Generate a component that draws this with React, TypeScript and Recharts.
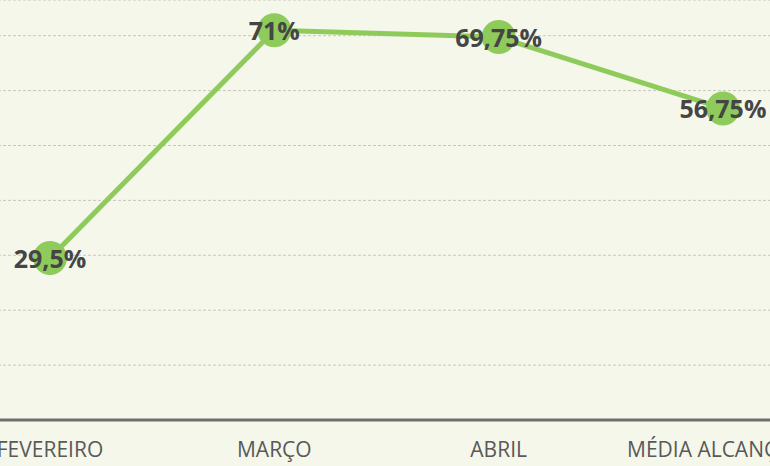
import { LineChart, Line, XAxis, YAxis, CartesianGrid, LabelList } from "recharts";

// values
const categories = ["FEVEREIRO", "MARÇO", "ABRIL", "MÉDIA ALCANÇADA"];
const percentages = [29.5, 71, 69.75, 56.75];
const yTicks = [0, 10, 20, 30, 40, 50, 60, 70];

const chartData = categories.map((month, i) => ({ month, value: percentages[i] }));

const GREEN = "#8fcb5a";

const PointLabel = (props: any) => {
  const { x, y, value } = props;
  return (
    <text
      x={x}
      y={y}
      textAnchor="middle"
      dominantBaseline="central"
      fontFamily="'Open Sans', sans-serif"
      fontWeight={700}
      fontSize={25}
      fill="#454545"
    >
      {String(value).replace(".", ",")}%
    </text>
  );
};

const App = () => {
  return (
    <div
      style={{
        position: "fixed",
        top: 0,
        left: 0,
        width: 770,
        height: 466,
        overflow: "hidden",
        background: "#f5f7ea",
      }}
    >
      <div style={{ position: "absolute", left: -62, top: 0 }}>
        <LineChart
          width={897}
          height={466}
          data={chartData}
          margin={{ top: 0, right: 0, left: 0, bottom: 0 }}
        >
          <CartesianGrid
            vertical={false}
            stroke="#c6c8bd"
            strokeDasharray="3 2"
          />
          <XAxis
            dataKey="month"
            height={46}
            padding={{ left: 112, right: 112 }}
            axisLine={{ stroke: "#6f6f6f", strokeWidth: 3 }}
            tickLine={false}
            tickMargin={16}
            interval={0}
            tick={{ fill: "#595959", fontSize: 21, fontFamily: "'Open Sans', sans-serif" }}
          />
          <YAxis hide domain={[0, 76.5]} ticks={yTicks} />
          <Line
            type="linear"
            dataKey="value"
            stroke={GREEN}
            strokeWidth={5}
            dot={{ r: 17, fill: GREEN, stroke: "none" }}
            activeDot={false}
            isAnimationActive={false}
          >
            <LabelList dataKey="value" content={<PointLabel />} />
          </Line>
        </LineChart>
      </div>
    </div>
  );
};

export default App;
